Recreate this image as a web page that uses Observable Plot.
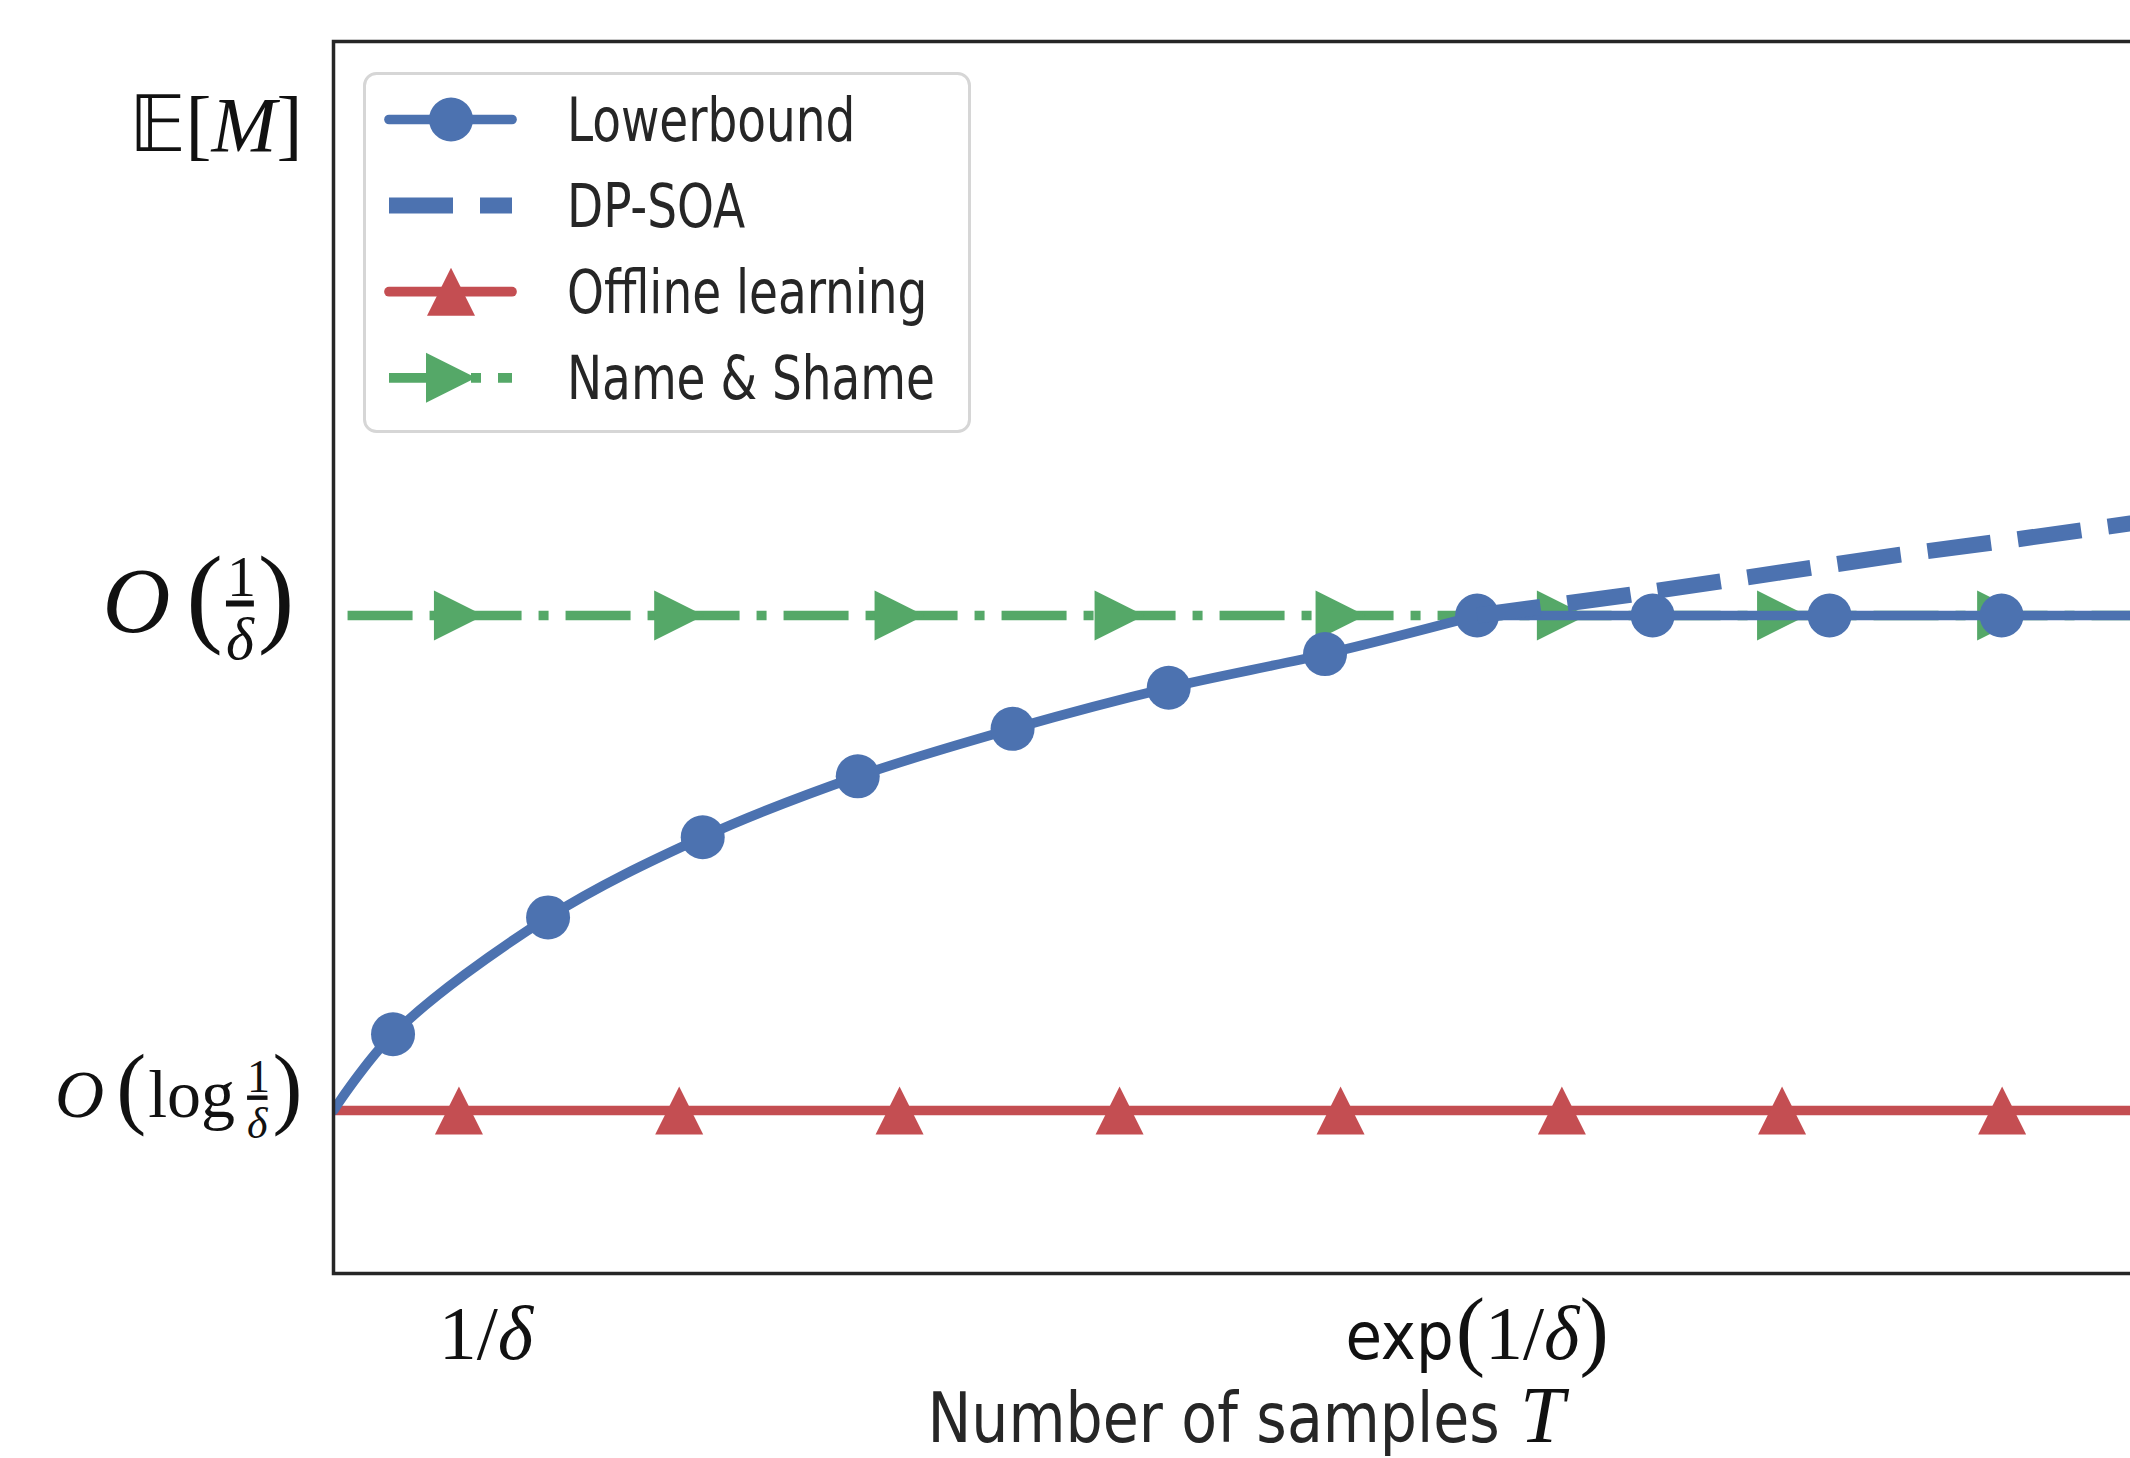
<!DOCTYPE html>
<html>
<head>
<meta charset="utf-8">
<script src="https://cdn.jsdelivr.net/npm/d3@7"></script>
<script src="https://cdn.jsdelivr.net/npm/@observablehq/plot@0.6"></script>
<style>
  html, body { margin: 0; padding: 0; background: #fff; overflow: hidden; }
  #wrap { position: relative; width: 2130px; height: 1458px; overflow: hidden; background: #fff; }
  #wrap > svg { position: absolute; left: 0; top: 0; max-width: none !important; }
</style>
</head>
<body>
<div id="wrap"></div>
<script>
// ---------------- data ----------------
const lowerboundT = [0, 3.26, 11.75, 20.22, 28.71, 37.19, 45.74, 54.30, 62.63, 72.24, 81.93, 91.35, 100];
const lowerboundM = [1.0, 1.154, 1.390, 1.552, 1.675, 1.771, 1.854, 1.922, 2.0, 2.0, 2.0, 2.0, 2.0];
const dpsoaT = [62.63, 71.03, 79.24, 85.82, 92.22, 98.41, 100];
const dpsoaM = [2.0, 2.042, 2.087, 2.123, 2.154, 2.186, 2.194];
const offlineT = [0, 100];
const offlineM = [1, 1];
const nameShameT = [0.77, 100];
const nameShameM = [2, 2];
const triangleMarkerT = [6.87, 18.93, 31.0, 43.05, 55.15, 67.27, 79.33, 91.38];
const xTickValues = [8.35, 62.63];
const xTickLabels = ["1/δ", "exp(1/δ)"];
const yTickValues = [1, 2, 2.98];
const yTickLabels = ["O(log 1/δ)", "O(1/δ)", "𝔼[M]"];
const xLabelText = "Number of samples";
const xLabelSymbol = "T";
const legendLabels = ["Lowerbound", "DP-SOA", "Offline learning", "Name & Shame"];

// ---------------- styling ----------------
const BLUE = "#4c72b0", RED = "#c44e52", GREEN = "#55a868", INK = "#262626";
const SERIF = "'Liberation Serif','Times New Roman',serif";
const SANS = "'DejaVu Sans Condensed','DejaVu Sans',sans-serif";
const SANS_SX = 0.87; // horizontal squeeze to mimic the narrow LaTeX sans
const NS = "http://www.w3.org/2000/svg";

const triUp = { draw(ctx, size) { const h = Math.sqrt(size / Math.PI); ctx.moveTo(0, -h); ctx.lineTo(h, h); ctx.lineTo(-h, h); ctx.closePath(); } };
const triRight = { draw(ctx, size) { const h = Math.sqrt(size / Math.PI); ctx.moveTo(h, 0); ctx.lineTo(-h, h); ctx.lineTo(-h, -h); ctx.closePath(); } };

// ---------------- tables ----------------
const rows = (T, M) => T.map((t, i) => ({t, m: M[i]}));
const lb = rows(lowerboundT, lowerboundM);
const knee = lowerboundM.indexOf(d3.max(lowerboundM));
const lbCurve = lb.slice(0, knee + 1);
const lbFlat = lb.slice(knee);
const lbMarkers = lb.slice(1, lb.length - 1);
const dp = rows(dpsoaT, dpsoaM);
const off = rows(offlineT, offlineM);
const ns = rows(nameShameT, nameShameM);
const offMarkers = triangleMarkerT.map(t => ({t, m: offlineM[0]}));
const nsMarkers = triangleMarkerT.map(t => ({t, m: nameShameM[0]}));

const W = 2160, H = 1458, MB = 185;
const plot = Plot.plot({
  width: W, height: H,
  marginLeft: 333, marginRight: 1, marginTop: 41, marginBottom: MB,
  style: {background: "#fff", fontFamily: SERIF, color: INK, overflow: "visible", maxWidth: "none"},
  x: {domain: [0, 100]},
  y: {domain: [0.6707, 3.1596]},
  marks: [
    Plot.line(off, {x: "t", y: "m", stroke: RED, strokeWidth: 9.7, clip: true}),
    Plot.dot(offMarkers, {x: "t", y: "m", symbol: triUp, r: 24, fill: RED, stroke: "none"}),
    Plot.line(ns, {x: "t", y: "m", stroke: GREEN, strokeWidth: 9.7, strokeDasharray: "65,17,10,17", strokeLinecap: "butt", clip: true}),
    Plot.dot(nsMarkers, {x: "t", y: "m", symbol: triRight, r: 25, fill: GREEN, stroke: "none"}),
    Plot.line(lbCurve, {x: "t", y: "m", stroke: BLUE, strokeWidth: 9.7, curve: "catmull-rom", clip: true}),
    Plot.line(lbFlat, {x: "t", y: "m", stroke: BLUE, strokeWidth: 9.7, clip: true}),
    Plot.dot(lbMarkers, {x: "t", y: "m", r: 22, fill: BLUE, stroke: "none"}),
    Plot.line(dp, {x: "t", y: "m", stroke: BLUE, strokeWidth: 16, strokeDasharray: "64,27", strokeLinecap: "butt", clip: true}),
    Plot.frame({stroke: INK, strokeWidth: 3.5}),
    Plot.axisX({ticks: xTickValues, tickFormat: d => xTickLabels[xTickValues.indexOf(d)], tickSize: 0, tickPadding: 0,
      fontSize: 74, label: null}),
    Plot.axisY({ticks: yTickValues, tickFormat: d => yTickLabels[yTickValues.indexOf(d)], tickSize: 0, tickPadding: 31,
      fontSize: 70, label: null})
  ]
});
plot.style.maxWidth = "none";
plot.setAttribute("width", W);
plot.setAttribute("height", H);
document.getElementById("wrap").appendChild(plot);

// ---------------- math-style rich labels ----------------
function richText(el, parts, baselineY, shiftX) {
  while (el.firstChild) el.removeChild(el.firstChild);
  el.setAttribute("y", baselineY);
  if (shiftX) el.setAttribute("x", shiftX);
  el.removeAttribute("dy");
  el.setAttribute("fill", "#111");
  for (const p of parts) {
    const ts = document.createElementNS(NS, "tspan");
    ts.textContent = p.t;
    ts.setAttribute("font-family", p.f || SERIF);
    if (p.s) ts.setAttribute("font-size", p.s);
    if (p.i) ts.setAttribute("font-style", "italic");
    if (p.dx) ts.setAttribute("dx", p.dx);
    if (p.dy) ts.setAttribute("dy", p.dy);
    if (p.o) ts.setAttribute("text-decoration", "overline");
    el.appendChild(ts);
  }
}
const richY = {
  "O(log 1/δ)": [7, 0, [
    {t: "O", i: 1, s: 68}, {t: "(", s: 90, dx: 12}, {t: "log", s: 68, dx: 2},
    {t: "1", s: 46, dx: 12, dy: -25}, {t: "δ", s: 44, i: 1, dx: -23, dy: 46, o: 1}, {t: ")", s: 90, dx: 5, dy: -21}]],
  "O(1/δ)": [17, -8, [
    {t: "O", i: 1, s: 94}, {t: "(", s: 110, dx: 16}, {t: "1", s: 58, dx: 4, dy: -36},
    {t: "δ", s: 60, i: 1, dx: -30, dy: 63, o: 1}, {t: ")", s: 110, dx: 4, dy: -27}]],
  "𝔼[M]": [21, 0, [{t: "𝔼", s: 78}, {t: "[", s: 78}, {t: "M", i: 1, s: 78}, {t: "]", s: 78}]]
};
const richX = {
  "1/δ": [85, 0, [{t: "1", s: 76}, {t: "/", s: 76}, {t: "δ", i: 1, s: 76}]],
  "exp(1/δ)": [85, 0, [{t: "exp", f: SANS, s: 66}, {t: "(", s: 88, dx: 2}, {t: "1", s: 76}, {t: "/", s: 76}, {t: "δ", i: 1, s: 76}, {t: ")", s: 88}]]
};
plot.querySelectorAll('[aria-label="y-axis tick label"] text').forEach(el => {
  const spec = richY[el.textContent]; if (spec) richText(el, spec[2], spec[0], spec[1]);
});
plot.querySelectorAll('[aria-label="x-axis tick label"] text').forEach(el => {
  const spec = richX[el.textContent]; if (spec) richText(el, spec[2], spec[0], spec[1]);
});

// ---------------- x-axis title: "Number of samples T" ----------------
{
  const xr = plot.scale("x").range;
  const cx = (xr[0] + xr[1]) / 2;
  const LSX = 0.93;
  const g = d3.select(plot).append("g").attr("aria-label", "x-axis label")
    .attr("transform", `translate(${cx},${H - MB + 169})`).attr("text-anchor", "start");
  const a = g.append("text").attr("text-anchor", "start").attr("font-family", SANS).attr("font-size", 70).attr("fill", INK).text(xLabelText);
  const b = g.append("text").attr("text-anchor", "start").attr("font-family", SERIF).attr("font-style", "italic").attr("font-size", 80).attr("fill", "#111").text(xLabelSymbol);
  const wa = a.node().getComputedTextLength() * LSX;
  const wb = b.node().getComputedTextLength();
  const gap = 20;
  const x0 = -(wa + gap + wb) / 2;
  a.attr("transform", `translate(${x0},0) scale(${LSX},1)`);
  b.attr("x", x0 + wa + gap);
}

// ---------------- legend (inside the axes, upper left) ----------------
const legendStyles = [
  {stroke: BLUE, width: 9.7, dash: null, cap: "round", marker: "circle"},
  {stroke: BLUE, width: 16, dash: "64,27", cap: "butt", marker: null},
  {stroke: RED, width: 9.7, dash: null, cap: "round", marker: "up"},
  {stroke: GREEN, width: 9.7, dash: "65,17,10,17", cap: "butt", marker: "right"}
];
const leg = d3.select("#wrap").append("svg")
  .attr("width", 612).attr("height", 366)
  .style("left", "361px").style("top", "70px");
leg.append("rect").attr("x", 3.5).attr("y", 3.5).attr("width", 605).attr("height", 358).attr("rx", 12)
  .attr("fill", "#fff").attr("fill-opacity", 0.8).attr("stroke", "#d6d6d6").attr("stroke-width", 3);
legendLabels.forEach((label, i) => {
  const st = legendStyles[i];
  const cy = 49.5 + 86.1 * i;
  const g = leg.append("g");
  g.append("line").attr("x1", 28).attr("x2", 151).attr("y1", cy).attr("y2", cy)
    .attr("stroke", st.stroke).attr("stroke-width", st.width).attr("stroke-linecap", st.cap)
    .attr("stroke-dasharray", st.dash);
  if (st.marker === "circle") g.append("circle").attr("cx", 90).attr("cy", cy).attr("r", 22).attr("fill", st.stroke);
  if (st.marker === "up") g.append("path").attr("transform", `translate(90,${cy})`).attr("d", d3.symbol(triUp, Math.PI * 24 * 24)()).attr("fill", st.stroke);
  if (st.marker === "right") g.append("path").attr("transform", `translate(90,${cy})`).attr("d", d3.symbol(triRight, Math.PI * 25 * 25)()).attr("fill", st.stroke);
  g.append("text").attr("transform", `translate(206,${cy + 21}) scale(${SANS_SX},1)`)
    .attr("font-family", SANS).attr("font-size", 60).attr("fill", INK).text(label);
});
</script>
</body>
</html>
